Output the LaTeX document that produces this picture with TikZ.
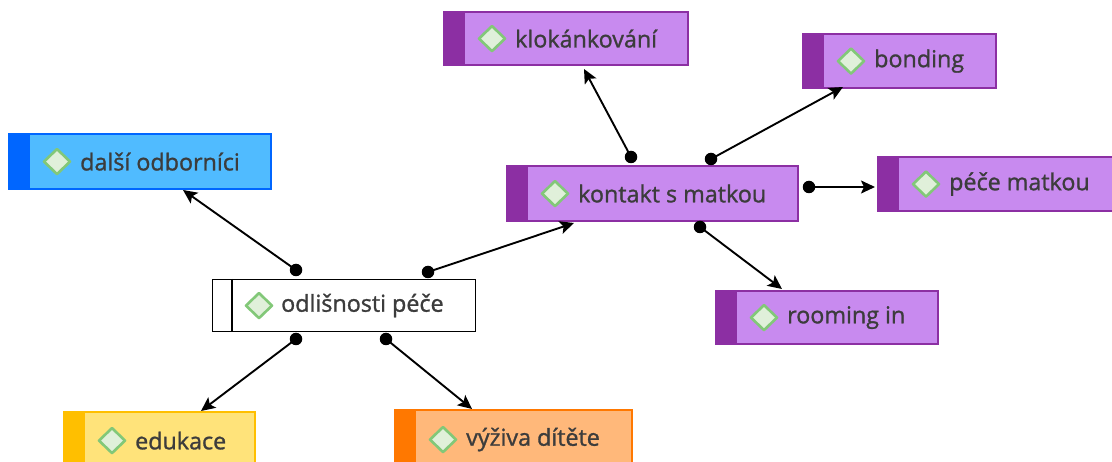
\documentclass[tikz,border=0pt]{standalone}
\usepackage{fontspec}
\setmainfont{Open Sans}
\newfontfamily\lblfont[FakeBold=1.2]{Open Sans}
\usetikzlibrary{arrows.meta,calc}
\definecolor{txt}{HTML}{3C3C3C}
\definecolor{purfill}{HTML}{C88AEF}
\definecolor{purdark}{HTML}{8C2FA3}
\definecolor{bluefill}{HTML}{50BBFF}
\definecolor{bluedark}{HTML}{0066FF}
\definecolor{yelfill}{HTML}{FFE37A}
\definecolor{yeldark}{HTML}{FFBF00}
\definecolor{orfill}{HTML}{FFB87A}
\definecolor{ordark}{HTML}{FF7800}
\definecolor{diafill}{HTML}{E0F0DA}
\definecolor{diaedge}{HTML}{82C878}
\tikzset{
  topic/.style={draw, anchor=north west, inner sep=0pt, line width=1.2pt},
  lbl/.style={anchor=west, inner sep=0pt, text=txt, font=\lblfont\fontsize{23.3}{28}\selectfont},
  conn/.style={line width=1.9pt, -{Stealth[length=14pt,width=13pt,inset=3pt]}},
  dot/.style={circle, fill=black, inner sep=0pt, minimum size=12.5pt},
}
\newcommand{\topicbox}[9]{%
  % #1 name, #2 x, #3 y, #4 w, #5 h, #6 fill, #7 dark, #8 text, #9 border
  \node[topic, draw=#9, fill=#6, minimum width=#4pt, minimum height=#5pt] (#1) at (#2,#3) {};
  \fill[#7] (#1.north west) rectangle ([xshift=21pt]#1.south west);
  \draw[#9, line width=1.2pt] (#1.north west) rectangle (#1.south east);
  \draw[diaedge, line width=2.6pt, fill=diafill, line join=round]
    ([xshift=35pt]#1.west) -- ([xshift=48pt,yshift=12.5pt]#1.west) -- ([xshift=61pt]#1.west) -- ([xshift=48pt,yshift=-12.5pt]#1.west) -- cycle;
  \node[lbl] (#1-t) at ([xshift=71pt]#1.west) {#8};
}
\begin{document}
\begin{tikzpicture}[x=1pt,y=-1pt]
\useasboundingbox (0,0) rectangle (1112,462);
\fill[white] (0,0) rectangle (1112,462);

% central node (white)
\node[topic, draw=black, fill=white, minimum width=263pt, minimum height=52pt] (odl) at (212,279) {};
\draw[black, line width=1.2pt] ([xshift=20pt]odl.north west) -- ([xshift=20pt]odl.south west);
\draw[diaedge, line width=2.6pt, fill=diafill, line join=round]
  ([xshift=34pt]odl.west) -- ([xshift=47pt,yshift=12.5pt]odl.west) -- ([xshift=60pt]odl.west) -- ([xshift=47pt,yshift=-12.5pt]odl.west) -- cycle;
\node[lbl] (odl-t) at ([xshift=69pt]odl.west) {odlišnosti péče};

\topicbox{kon}{507}{166}{290}{54}{purfill}{purdark}{kontakt s matkou}{purdark}
\topicbox{dal}{9}{134}{261}{54}{bluefill}{bluedark}{další odborníci}{bluedark}
\topicbox{edu}{64}{412}{190}{56}{yelfill}{yeldark}{edukace}{yeldark}
\topicbox{vyz}{395}{410}{236}{58}{orfill}{ordark}{výživa dítěte}{ordark}
\topicbox{klo}{444}{12}{243}{52}{purfill}{purdark}{klokánkování}{purdark}
\topicbox{bon}{803}{34}{192}{53}{purfill}{purdark}{bonding}{purdark}
\topicbox{pec}{878}{157}{240}{53}{purfill}{purdark}{péče matkou}{purdark}
\topicbox{roo}{716}{291}{221}{52}{purfill}{purdark}{rooming in}{purdark}

% connector ends
\node[dot] (d1) at (296,270) {};
\node[dot] (d2) at (428,272) {};
\node[dot] (d3) at (296,339) {};
\node[dot] (d4) at (386,339) {};
\node[dot] (d5) at (631,157) {};
\node[dot] (d6) at (711,159) {};
\node[dot] (d7) at (809,187) {};
\node[dot] (d8) at (700,227) {};
\coordinate (t1) at (183,190);
\coordinate (t2) at (574,223);
\coordinate (t3) at (201,411);
\coordinate (t4) at (472,409);
\coordinate (t5) at (584,69);
\coordinate (t6) at (843,87);
\coordinate (t7) at (875,187);
\coordinate (t8) at (782,289);

\draw[conn] (d1.center) -- (t1);
\draw[conn] (d2.center) -- (t2);
\draw[conn] (d3.center) -- (t3);
\draw[conn] (d4.center) -- (t4);
\draw[conn] (d5.center) -- (t5);
\draw[conn] (d6.center) -- (t6);
\draw[conn] (d7.center) -- (t7);
\draw[conn] (d8.center) -- (t8);
\end{tikzpicture}
\end{document}
